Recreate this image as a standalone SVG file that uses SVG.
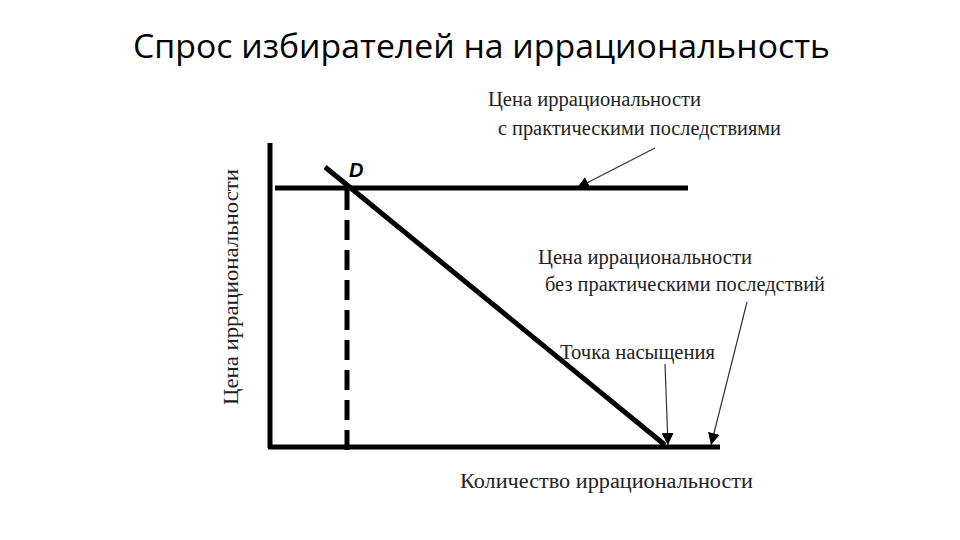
<svg xmlns="http://www.w3.org/2000/svg" width="960" height="540" viewBox="0 0 960 540">
<style>
.t{font-family:"Liberation Serif",serif;font-size:20px;fill:#222}
.ln{stroke:#000;stroke-width:5;fill:none}
.ar{stroke:#333;stroke-width:1.2;fill:none;marker-end:url(#a)}
</style>
<defs><marker id="a" viewBox="0 0 10 10" refX="10" refY="5" markerWidth="12" markerHeight="12" markerUnits="userSpaceOnUse" orient="auto"><path d="M0,0L10,5L0,10z" fill="#000"/></marker></defs>
<rect width="960" height="540" fill="#fff"/>
<text x="133" y="58" textLength="697" lengthAdjust="spacingAndGlyphs" font-family="Open Sans,sans-serif" font-size="32" fill="#000">Спрос избирателей на иррациональность</text>
<g id="axes">
<line class="ln" x1="270" y1="143" x2="270" y2="448" stroke-width="3.5"/>
<line class="ln" x1="268" y1="447" x2="720" y2="447"/>
</g>
<g id="priceLine"><line class="ln" x1="275" y1="188" x2="688" y2="188"/></g>
<g id="demand"><line class="ln" x1="325" y1="167" x2="665" y2="445"/></g>
<g id="dashed"><line class="ln" x1="347" y1="190" x2="347" y2="455" stroke-dasharray="20,10"/></g>
<g id="connectors">
<line class="ar" x1="655" y1="148" x2="577" y2="188"/>
<line class="ar" x1="665" y1="364" x2="668" y2="445"/>
<line class="ar" x1="747" y1="302" x2="711" y2="445"/>
</g>
<g id="labels">
<text x="349" y="177" font-family="Liberation Sans,sans-serif" font-style="italic" font-weight="bold" font-size="20">D</text>
<text class="t" x="488" y="106" textLength="213" lengthAdjust="spacingAndGlyphs">Цена иррациональности</text>
<text class="t" x="498" y="135" textLength="283" lengthAdjust="spacingAndGlyphs">с практическими последствиями</text>
<text class="t" x="538" y="264" textLength="214" lengthAdjust="spacingAndGlyphs">Цена иррациональности</text>
<text class="t" x="545" y="291" textLength="280" lengthAdjust="spacingAndGlyphs">без практическими последствий</text>
<text class="t" x="560" y="359" textLength="155" lengthAdjust="spacingAndGlyphs">Точка насыщения</text>
<text class="t" x="460" y="488" textLength="293" lengthAdjust="spacingAndGlyphs">Количество иррациональности</text>
<text class="t" transform="translate(238,287) rotate(-90)" x="-118" textLength="236" lengthAdjust="spacingAndGlyphs">Цена иррациональности</text>
</g>
</svg>
